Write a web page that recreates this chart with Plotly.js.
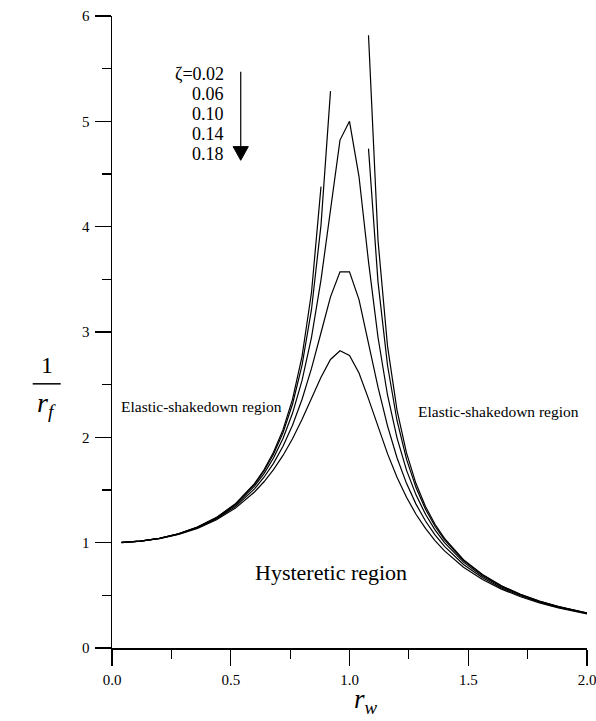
<!DOCTYPE html>
<html>
<head>
<meta charset="utf-8">
<script src="https://cdn.plot.ly/plotly-3.0.1.min.js"></script>
<style>html,body{margin:0;padding:0;background:#fff;}#chart{width:596px;height:721px;}</style>
</head>
<body>
<div id="chart"></div>
<script>
// frequency ratio r_w
const rw = [0.04,0.12,0.20,0.28,0.36,0.44,0.52,0.60,0.64,0.68,0.72,0.76,0.80,0.84,0.88,0.92,0.96,1.00,1.04,1.08,1.12,1.16,1.20,1.24,1.28,1.32,1.36,1.40,1.48,1.56,1.64,1.72,1.80,1.88,1.96,2.00];
// 1/r_f for each damping ratio (null = off the chart)
const z002 = [1.002,1.015,1.042,1.085,1.149,1.240,1.370,1.561,1.692,1.858,2.073,2.361,2.767,3.375,4.380,null,null,null,null,5.817,3.871,2.868,2.259,1.852,1.561,1.344,1.175,1.040,0.839,0.697,0.591,0.510,0.446,0.394,0.352,0.333];
const z006 = [1.002,1.015,1.041,1.084,1.148,1.237,1.366,1.553,1.680,1.839,2.044,2.314,2.684,3.214,4.015,5.287,null,null,null,4.741,3.476,2.684,2.160,1.793,1.523,1.317,1.156,1.026,0.831,0.692,0.588,0.508,0.444,0.393,0.351,0.332];
const z010 = [1.002,1.015,1.041,1.083,1.145,1.233,1.357,1.536,1.655,1.803,1.989,2.228,2.538,2.950,3.495,4.172,4.822,5.000,4.476,3.668,2.950,2.402,1.995,1.689,1.454,1.269,1.121,1.000,0.815,0.682,0.581,0.503,0.441,0.390,0.349,0.330];
const z014 = [1.001,1.014,1.040,1.081,1.141,1.226,1.344,1.511,1.621,1.753,1.915,2.114,2.359,2.654,2.993,3.334,3.571,3.571,3.307,2.897,2.476,2.109,1.806,1.563,1.366,1.206,1.074,0.964,0.793,0.667,0.571,0.496,0.436,0.386,0.346,0.328];
const z018 = [1.001,1.014,1.039,1.079,1.136,1.217,1.328,1.481,1.578,1.693,1.828,1.987,2.169,2.370,2.571,2.739,2.822,2.778,2.610,2.365,2.098,1.845,1.622,1.431,1.270,1.135,1.020,0.922,0.767,0.650,0.559,0.487,0.429,0.381,0.342,0.324];
const zetaLabels = ["ζ=0.02","0.06","0.10","0.14","0.18"];
const xTickVals = [0,0.5,1.0,1.5,2.0];
const yTickVals = [0,1,2,3,4,5,6];

const series = [z002,z006,z010,z014,z018];
const FONT = "'Liberation Serif', 'Times New Roman', serif";

const traces = series.map((ys,i)=>({
  x: rw, y: ys, type:'scatter', mode:'lines',
  line:{color:'#000', width:1.2},
  connectgaps:false, showlegend:false, hoverinfo:'skip',
  name: zetaLabels[i]
}));

const labelY = [5.45,5.26,5.07,4.88,4.69];
const annotations = zetaLabels.map((t,i)=>({
  x:0.478, y:labelY[i], xref:'x', yref:'y', text:t, showarrow:false,
  xanchor:'right', yanchor:'middle', font:{family:FONT, size:18, color:'#000'}
}));
annotations.push(
  {x:0.375, y:2.29, xref:'x', yref:'y', text:'Elastic-shakedown region', showarrow:false,
   xanchor:'center', yanchor:'middle', font:{family:FONT, size:15.5, color:'#000'}},
  {x:1.627, y:2.25, xref:'x', yref:'y', text:'Elastic-shakedown region', showarrow:false,
   xanchor:'center', yanchor:'middle', font:{family:FONT, size:15.5, color:'#000'}},
  {x:0.922, y:0.72, xref:'x', yref:'y', text:'Hysteretic region', showarrow:false,
   xanchor:'center', yanchor:'middle', font:{family:FONT, size:22, color:'#000'}},
  {x:0.534, y:-0.084, xref:'paper', yref:'paper', text:'<i>r</i><sub><i>w</i></sub>', showarrow:false,
   xanchor:'center', yanchor:'middle', font:{family:FONT, size:27, color:'#000'}},
  {x:-0.1375, y:0.447, xref:'paper', yref:'paper', text:'1', showarrow:false,
   xanchor:'center', yanchor:'middle', font:{family:FONT, size:24, color:'#000'}},
  {x:-0.1375, y:0.385, xref:'paper', yref:'paper', text:'<i>r</i><sub><i>f</i></sub>', showarrow:false,
   xanchor:'center', yanchor:'middle', font:{family:FONT, size:28, color:'#000'}}
);

const shapes = [
  {type:'line', xref:'paper', yref:'paper', x0:-0.167, x1:-0.108, y0:0.418, y1:0.418, line:{color:'#000', width:1.5}},
  {type:'line', xref:'x', yref:'y', x0:0.542, x1:0.542, y0:5.47, y1:4.76, line:{color:'#000', width:1.2}},
  {type:'path', xref:'x', yref:'y', path:'M 0.51 4.76 L 0.574 4.76 L 0.542 4.63 Z', fillcolor:'#000', line:{color:'#000', width:1}}
];

const axisCommon = {
  showgrid:false, zeroline:false, showline:true, linecolor:'#000', linewidth:1.5,
  ticks:'outside', tickcolor:'#000', tickwidth:1.2, ticklen:16,
  tickfont:{family:FONT, size:15, color:'#000'}, mirror:false,
  ticklabeloverflow:'allow'
};

const layout = {
  width:596, height:721,
  margin:{l:112, r:9, t:16, b:73, pad:0},
  paper_bgcolor:'#fff', plot_bgcolor:'#fff',
  showlegend:false,
  xaxis: Object.assign({}, axisCommon, {
    range:[0,2], tickvals:xTickVals, tickformat:'.1f', ticklabelstandoff:1,
    minor:{dtick:0.25, tick0:0, ticks:'outside', ticklen:9, tickwidth:1.2, tickcolor:'#000', showgrid:false}
  }),
  yaxis: Object.assign({}, axisCommon, {
    range:[0,6], tickvals:yTickVals, ticklabelstandoff:2,
    minor:{dtick:0.5, tick0:0, ticks:'outside', ticklen:9, tickwidth:1.2, tickcolor:'#000', showgrid:false}
  }),
  annotations: annotations,
  shapes: shapes
};

Plotly.newPlot('chart', traces, layout, {displayModeBar:false, staticPlot:true});
</script>
</body>
</html>
